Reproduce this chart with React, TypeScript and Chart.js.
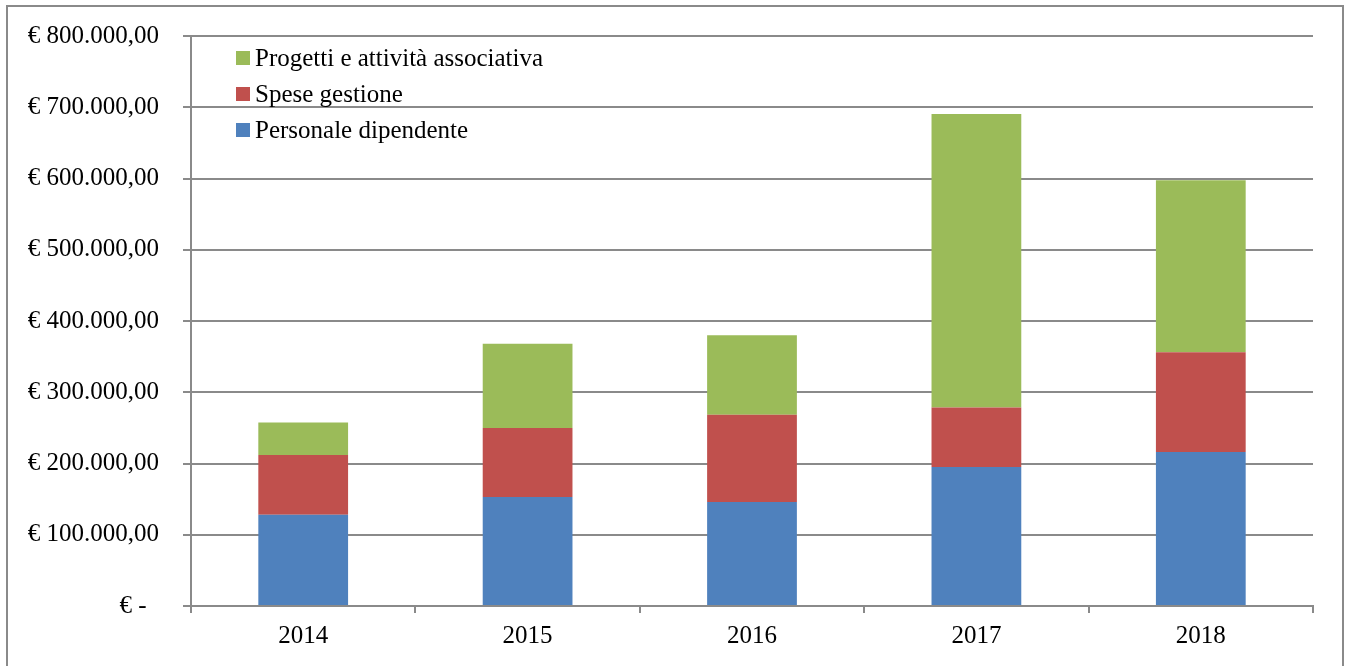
import React, { useEffect, useRef } from "react";
import { Chart, registerables } from "chart.js";

Chart.register(...registerables);

const categories = ["2014", "2015", "2016", "2017", "2018"];
const personaleDipendente = [128000, 153000, 146000, 195000, 216000];
const speseGestione = [84000, 97000, 122500, 83500, 140000];
const progettiAttivita = [45500, 118000, 111500, 412000, 241500];
const seriesLabels = ["Personale dipendente", "Spese gestione", "Progetti e attività associativa"];
const seriesColors = ["#4F81BD", "#C0504D", "#9BBB59"];

const FONT = "'Liberation Serif', 'Times New Roman', serif";
const GRID = "#8a8a8a";
const FS = 25;

function formatEuro(v: number): string {
  if (v === 0) return "€ -  ";
  const fixed = v.toFixed(2);
  const [intPart, dec] = fixed.split(".");
  const grouped = intPart.replace(/\B(?=(\d{3})+(?!\d))/g, ".");
  return "€ " + grouped + "," + dec;
}

const insideLegend = {
  id: "insideLegend",
  afterDraw(chart: any) {
    const ctx = chart.ctx;
    const area = chart.chartArea;
    const ds = chart.data.datasets.slice().reverse();
    ctx.save();
    ctx.font = FS + "px " + FONT;
    ctx.textBaseline = "middle";
    ctx.textAlign = "left";
    ds.forEach((d: any, i: number) => {
      const cy = area.top + 22 + i * 36;
      ctx.fillStyle = d.backgroundColor;
      ctx.fillRect(area.left + 45, cy - 7, 14, 14);
      ctx.fillStyle = "#000";
      ctx.fillText(d.label, area.left + 64, cy + 1);
    });
    ctx.restore();
  },
};

const frame = {
  id: "frame",
  beforeDraw(chart: any) {
    const ctx = chart.ctx;
    ctx.save();
    ctx.fillStyle = "#fff";
    ctx.fillRect(0, 0, chart.width, chart.height);
    ctx.strokeStyle = GRID;
    ctx.lineWidth = 2;
    ctx.strokeRect(7, 6, 1336, 670);
    ctx.restore();
  },
};

export default function App() {
  const ref = useRef<HTMLCanvasElement>(null);
  useEffect(() => {
    document.body.style.margin = "0";
    const chart = new Chart(ref.current!, {
      type: "bar",
      data: {
        labels: categories,
        datasets: [
          { label: seriesLabels[0], data: personaleDipendente, backgroundColor: seriesColors[0] },
          { label: seriesLabels[1], data: speseGestione, backgroundColor: seriesColors[1] },
          { label: seriesLabels[2], data: progettiAttivita, backgroundColor: seriesColors[2] },
        ],
      },
      options: {
        responsive: false,
        animation: false,
        devicePixelRatio: 1,
        layout: { padding: { left: 0, top: 36, right: 36, bottom: 0 } },
        datasets: { bar: { barPercentage: 0.4, categoryPercentage: 1 } },
        plugins: { legend: { display: false }, tooltip: { enabled: false } },
        scales: {
          x: {
            stacked: true,
            afterFit: (s: any) => { s.height = 60; s.paddingLeft = 0; s.paddingRight = 0; },
            grid: { drawOnChartArea: false, drawTicks: true, tickLength: 7, color: GRID, lineWidth: 2, offset: true },
            border: { display: true, color: GRID, width: 2 },
            ticks: { color: "#000", font: { family: FONT, size: FS }, padding: 8 },
          },
          y: {
            stacked: true,
            min: 0,
            max: 800000,
            afterFit: (s: any) => { s.width = 191; s.paddingTop = 0; s.paddingBottom = 0; },
            grid: { color: GRID, lineWidth: 2, tickLength: 8 },
            border: { display: true, color: GRID, width: 2 },
            ticks: {
              stepSize: 100000,
              color: "#000",
              font: { family: FONT, size: FS },
              padding: 24,
              callback: (v: any) => formatEuro(Number(v)),
            },
          },
        },
      },
      plugins: [frame, insideLegend],
    });
    return () => chart.destroy();
  }, []);
  return (
    <div style={{ position: "fixed", left: 0, top: 0, width: 1349, height: 666 }}>
      <canvas ref={ref} width={1349} height={666} style={{ width: 1349, height: 666 }} />
    </div>
  );
}
